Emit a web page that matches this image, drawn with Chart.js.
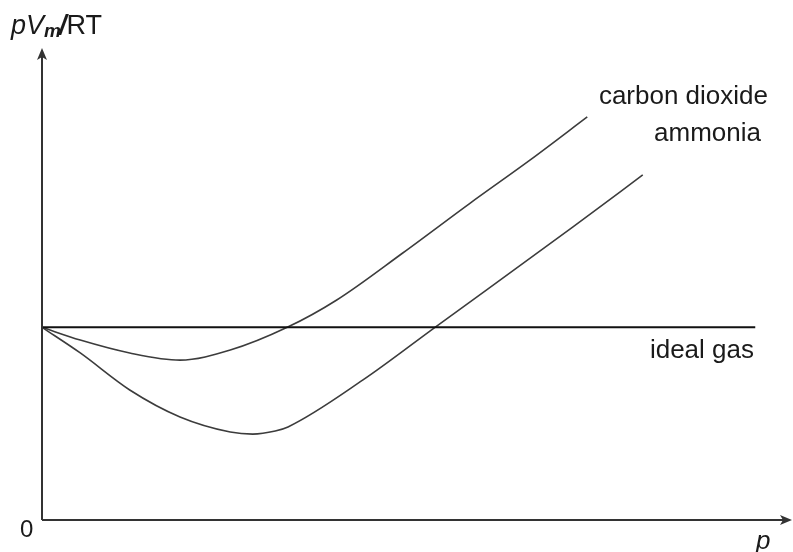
<!DOCTYPE html>
<html>
<head>
<meta charset="utf-8">
<script src="https://cdn.jsdelivr.net/npm/chart.js@4.4.1/dist/chart.umd.min.js"></script>
<style>
  html, body { margin: 0; padding: 0; background: #fff; }
  #wrap { width: 793px; height: 552px; position: relative; }
</style>
</head>
<body>
<div id="wrap"><canvas id="myChart"></canvas></div>
<script>
// pressure (arbitrary units) and pVm/RT for each gas
const idealP = [0, 9.51];
const idealZ = [1.0, 1.0];

const co2P = [0, 0.51, 1.17, 1.84, 2.51, 3.27, 3.93, 4.81, 5.71, 6.51, 7.27];
const co2Z = [1.0, 0.934, 0.867, 0.83, 0.882, 1.0, 1.142, 1.386, 1.645, 1.869, 2.092];

const nh3P = [0, 0.51, 1.17, 1.84, 2.51, 2.81, 3.11, 3.28, 4.28, 5.24, 7.08, 8.01];
const nh3Z = [1.0, 0.867, 0.675, 0.535, 0.457, 0.446, 0.462, 0.483, 0.727, 1.0, 1.521, 1.791];

const fontName = '"Liberation Sans", Arial, sans-serif';

function points(xs, ys){
    return xs.map(function (x, i){ return { x: x, y: ys[i] } });
}

// axes with arrow heads plus the text labels
const axesPlugin = {
    id: 'axesPlugin',
    afterDraw(chart){
        const ctx = chart.ctx;
        const a = chart.chartArea;
        ctx.save();
        ctx.strokeStyle = '#333';
        ctx.fillStyle = '#333';
        ctx.lineWidth = 2;
        ctx.beginPath();
        ctx.moveTo(a.left, a.bottom);
        ctx.lineTo(a.left, a.top + 4);
        ctx.moveTo(a.left, a.bottom);
        ctx.lineTo(a.right - 4, a.bottom);
        ctx.stroke();

        // arrow heads
        ctx.beginPath();
        ctx.moveTo(a.left, a.top);
        ctx.lineTo(a.left - 5, a.top + 12);
        ctx.lineTo(a.left, a.top + 9);
        ctx.lineTo(a.left + 5, a.top + 12);
        ctx.closePath();
        ctx.fill();
        ctx.beginPath();
        ctx.moveTo(a.right, a.bottom);
        ctx.lineTo(a.right - 12, a.bottom - 5);
        ctx.lineTo(a.right - 9, a.bottom);
        ctx.lineTo(a.right - 12, a.bottom + 5);
        ctx.closePath();
        ctx.fill();

        ctx.fillStyle = '#1a1a1a';
        ctx.textBaseline = 'alphabetic';

        // y axis title pVm/RT
        let x = 11;
        const base = 34;
        ctx.textAlign = 'left';
        ctx.font = 'italic 27px ' + fontName;
        ctx.fillText('p', x, base); x += ctx.measureText('p').width;
        ctx.fillText('V', x, base); x += ctx.measureText('V').width;
        ctx.font = 'italic bold 19px ' + fontName;
        ctx.fillText('m', x, base + 3); x += ctx.measureText('m').width;
        ctx.font = 'italic bold 27px ' + fontName;
        ctx.fillText('/', x - 2, base); x += ctx.measureText('/').width - 2;
        ctx.font = '27px ' + fontName;
        ctx.fillText('RT', x, base);

        ctx.font = '24px ' + fontName;
        ctx.fillText('0', 20, 537);

        ctx.font = 'italic 26px ' + fontName;
        ctx.fillText('p', 756, 549);

        ctx.textAlign = 'right';
        ctx.font = '26px ' + fontName;
        ctx.fillText('carbon dioxide', 768, 104);
        ctx.fillText('ammonia', 761, 141);
        ctx.fillText('ideal gas', 754, 358);
        ctx.restore();
    }
};

const data = {
    datasets: [
        {
            label: 'ideal gas',
            data: points(idealP, idealZ),
            borderColor: '#111',
            borderWidth: 2,
            tension: 0
        },
        {
            label: 'carbon dioxide',
            data: points(co2P, co2Z),
            borderColor: '#3c3c3c',
            borderWidth: 1.6,
            cubicInterpolationMode: 'monotone'
        },
        {
            label: 'ammonia',
            data: points(nh3P, nh3Z),
            borderColor: '#3c3c3c',
            borderWidth: 1.6,
            cubicInterpolationMode: 'monotone'
        }
    ]
};

const config = {
    type: 'line',
    data: data,
    options: {
        responsive: true,
        maintainAspectRatio: false,
        animation: false,
        layout: { padding: { left: 42, right: 1, top: 48, bottom: 32 } },
        elements: { point: { radius: 0 } },
        datasets: { line: { clip: false } },
        scales: {
            x: { type: 'linear', min: 0, max: 10, display: false },
            y: { type: 'linear', min: 0, max: 2.45, display: false }
        },
        plugins: {
            legend: { display: false },
            tooltip: { enabled: false }
        }
    },
    plugins: [axesPlugin]
};

const chart = new Chart('myChart', config);
</script>
</body>
</html>
